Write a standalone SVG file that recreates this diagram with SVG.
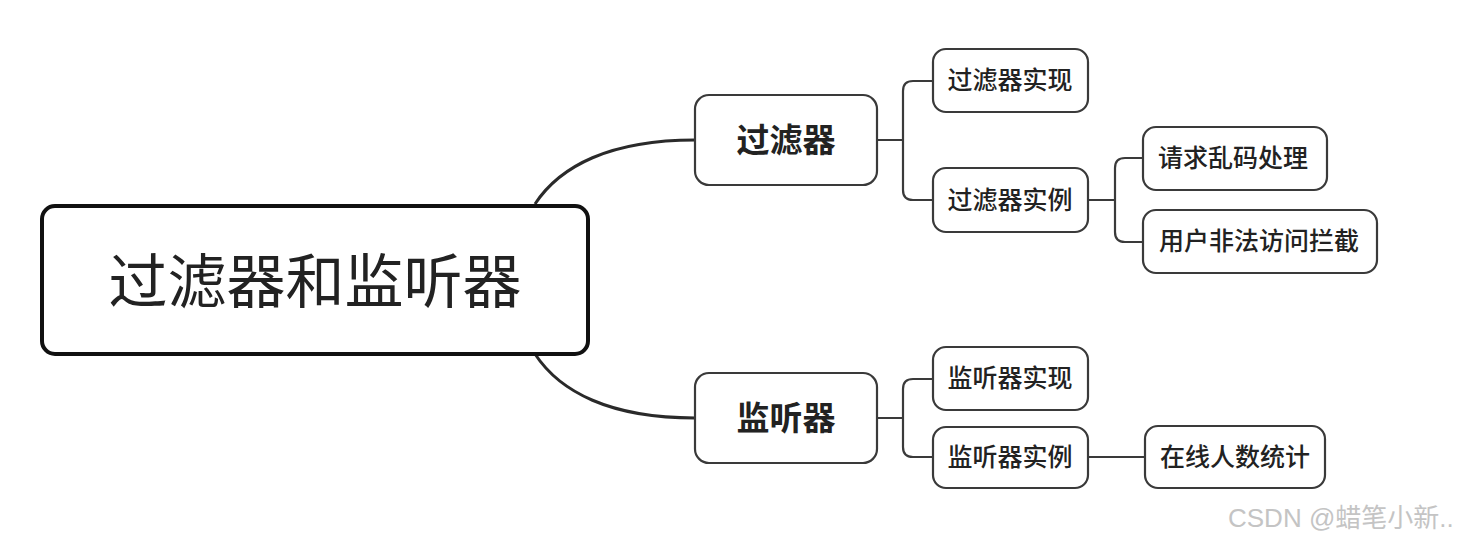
<svg xmlns="http://www.w3.org/2000/svg" width="1468" height="541" viewBox="0 0 1468 541">
<style>
.box{fill:#fff;stroke:#3a3a3a;stroke-width:2.2}
.root{fill:#fff;stroke:#111;stroke-width:4}
.t{font-family:"Noto Sans CJK SC","Noto Sans",sans-serif;fill:#222;text-anchor:middle;dominant-baseline:central}
.b{font-weight:bold}
.m{font-weight:500}
.c{fill:none;stroke:#3a3a3a;stroke-width:2.2}
.cm{fill:none;stroke:#2a2a2a;stroke-width:3}
.wm{font-family:"Liberation Sans","Noto Sans CJK SC",sans-serif;font-size:26px;fill:#c4c4c4}
</style>
<rect width="1468" height="541" fill="#fff"/>
<g id="connectors">
<path class="cm" d="M535,204 C560,166 610,140 695,140"/>
<path class="cm" d="M535,354 C560,392 610,418 695,418"/>
<path class="c" d="M877,140 H903 M933,81 H913 Q903,81 903,91 V190 Q903,200 913,200 H933"/>
<path class="c" d="M1088,200 H1115 M1143,158 H1125 Q1115,158 1115,168 V232 Q1115,242 1125,242 H1143"/>
<path class="c" d="M877,418 H903 M933,379 H913 Q903,379 903,389 V447 Q903,457 913,457 H933"/>
<path class="c" d="M1088,457 H1145"/>
</g>
<g id="root"><rect class="root" x="42" y="206" width="546" height="148" rx="13"/><text class="t" x="315" y="277" font-size="59">过滤器和监听器</text></g>
<g id="filter"><rect class="box" x="695" y="95" width="182" height="90" rx="14"/><text class="t b" x="786" y="138" font-size="33">过滤器</text></g>
<g id="filter-impl"><rect class="box" x="933" y="49" width="155" height="63" rx="13"/><text class="t m" x="1010" y="78" font-size="25">过滤器实现</text></g>
<g id="filter-example"><rect class="box" x="933" y="168" width="155" height="64" rx="13"/><text class="t m" x="1010" y="198" font-size="25">过滤器实例</text></g>
<g id="encoding"><rect class="box" x="1143" y="127" width="184" height="63" rx="13"/><text class="t m" x="1233" y="156" font-size="25">请求乱码处理</text></g>
<g id="intercept"><rect class="box" x="1143" y="210" width="234" height="63" rx="13"/><text class="t m" x="1259" y="239" font-size="25">用户非法访问拦截</text></g>
<g id="listener"><rect class="box" x="695" y="373" width="182" height="90" rx="14"/><text class="t b" x="786" y="416" font-size="33">监听器</text></g>
<g id="listener-impl"><rect class="box" x="933" y="347" width="155" height="63" rx="13"/><text class="t m" x="1010" y="376" font-size="25">监听器实现</text></g>
<g id="listener-example"><rect class="box" x="933" y="427" width="155" height="61" rx="13"/><text class="t m" x="1010" y="455" font-size="25">监听器实例</text></g>
<g id="online"><rect class="box" x="1145" y="426" width="180" height="62" rx="13"/><text class="t m" x="1235" y="455" font-size="25">在线人数统计</text></g>
<text class="wm" x="1228" y="527">CSDN @蜡笔小新..</text>
</svg>
